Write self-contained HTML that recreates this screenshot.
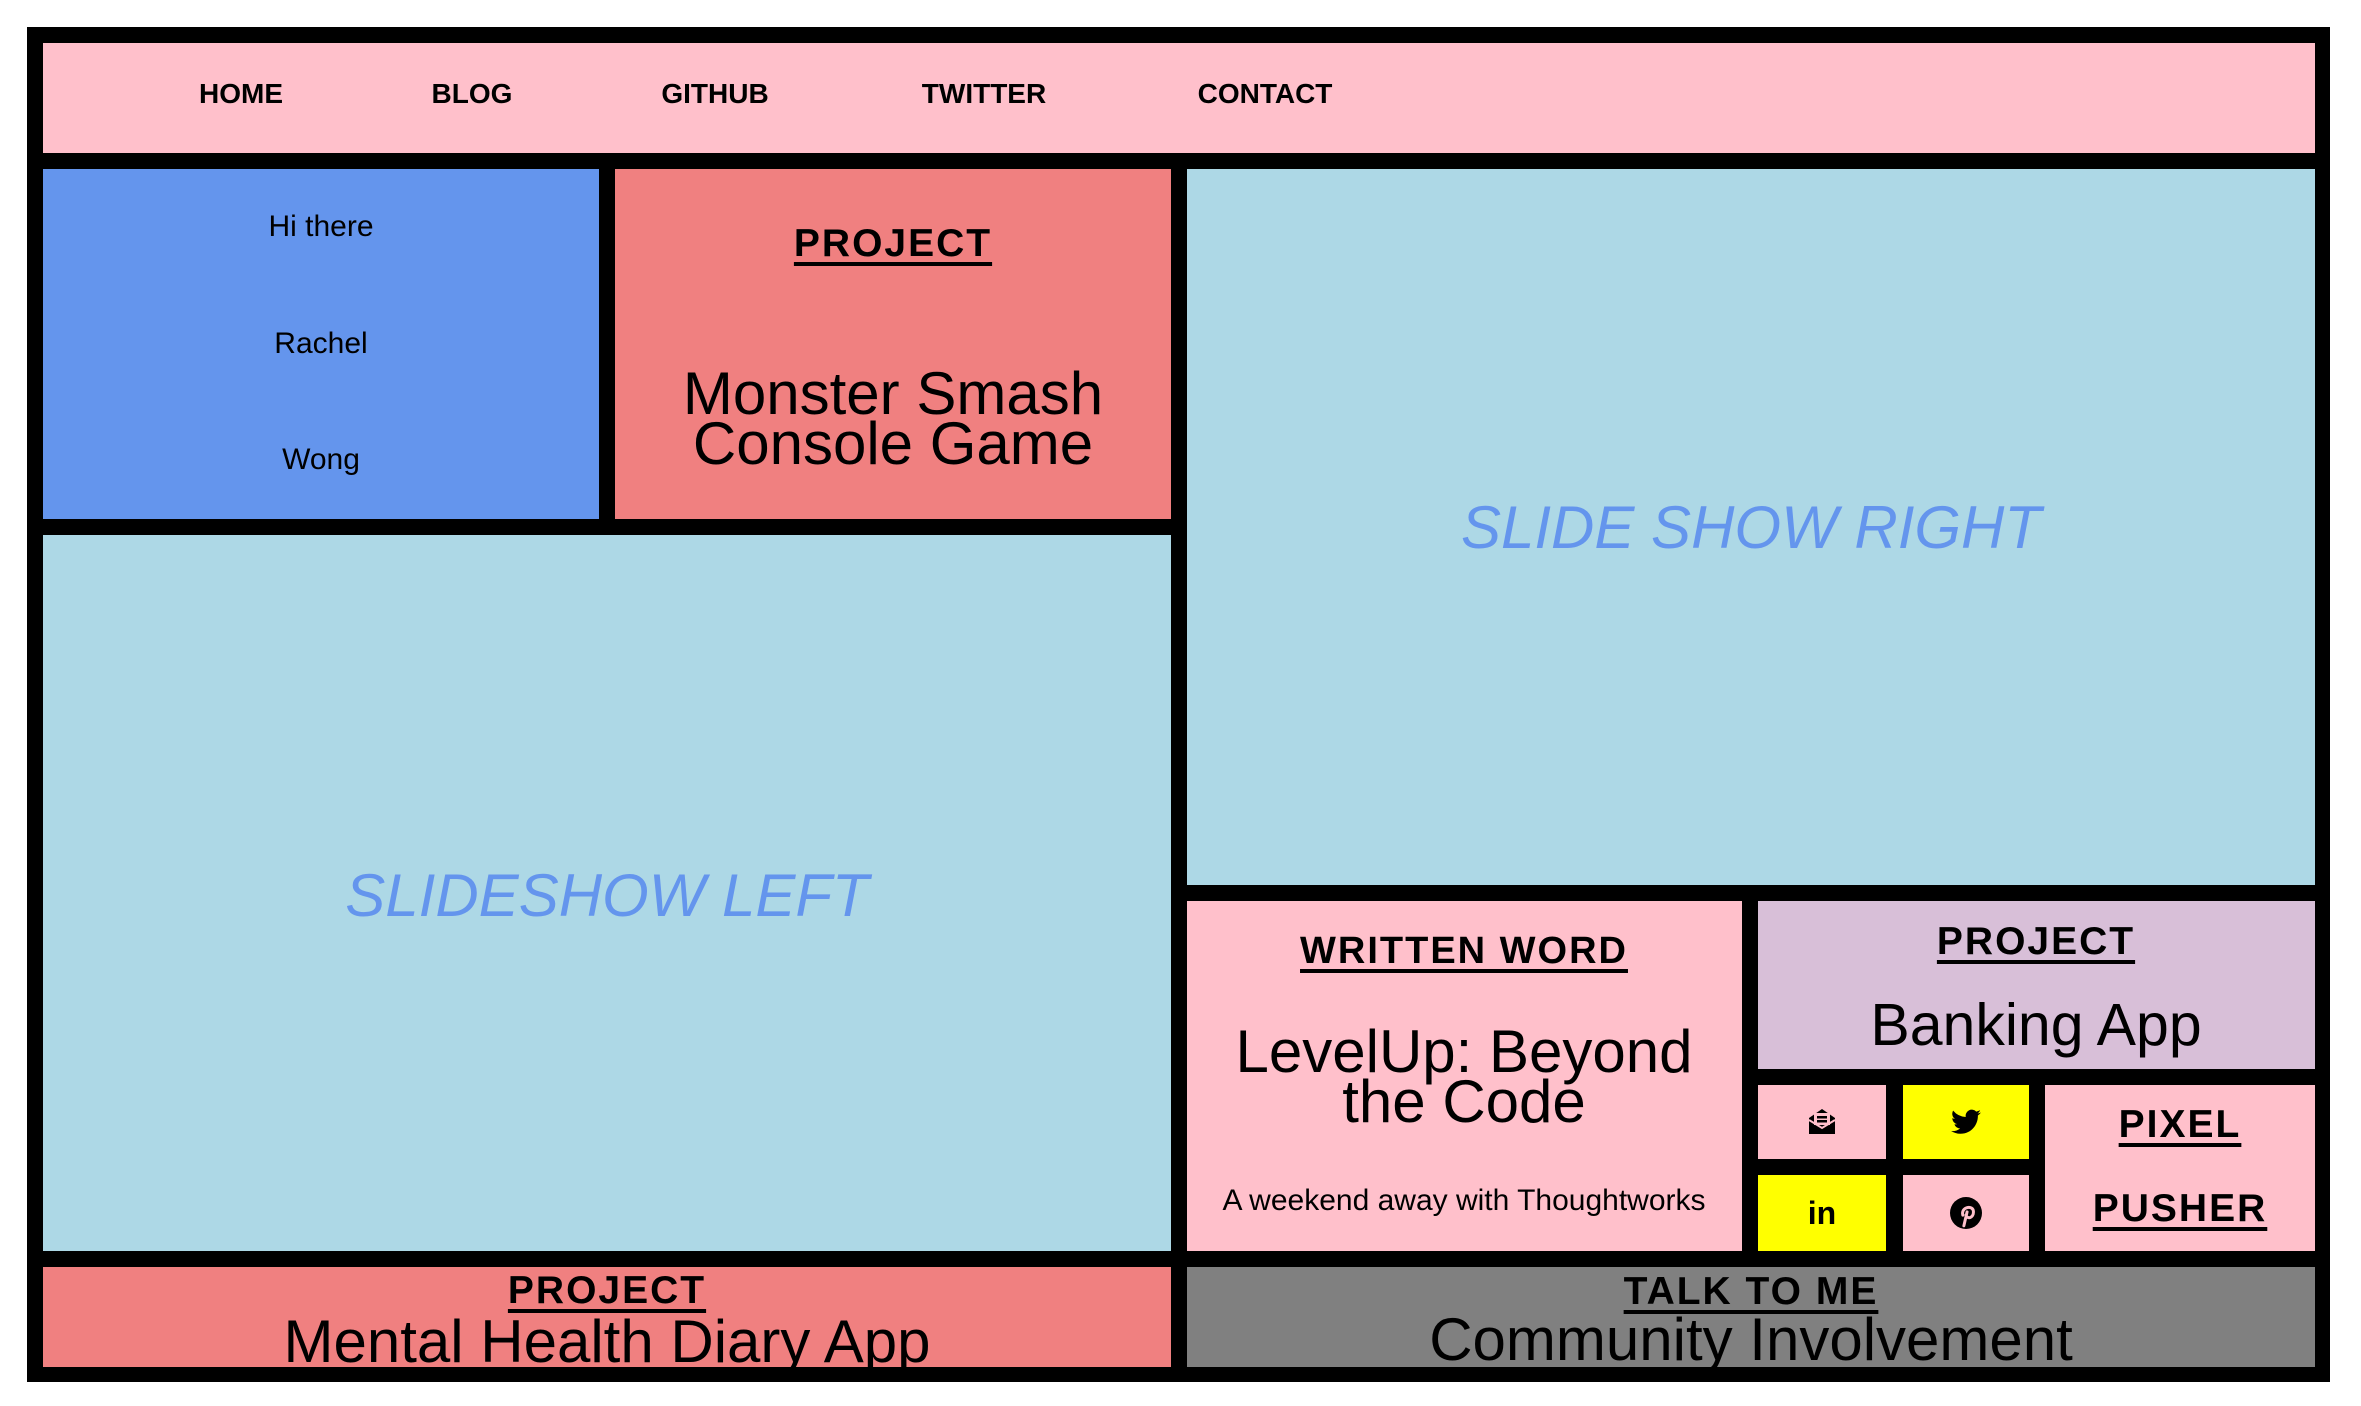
<!DOCTYPE html>
<html><head><meta charset="utf-8"><style>
*{margin:0;padding:0;box-sizing:border-box}
body{width:2361px;height:1406px;background:#fff;position:relative;overflow:hidden;font-family:"Liberation Sans",sans-serif;color:#000}
.b{position:absolute;overflow:hidden}
.t{position:absolute;white-space:nowrap;line-height:1;transform:translateX(-50%);text-align:center}
.h{font-weight:bold;font-size:39px;letter-spacing:2px;text-decoration:underline;text-decoration-thickness:4px;text-underline-offset:6px}
.nav{font-weight:bold;font-size:28px}
.big{font-size:60px;line-height:50px}
.sl{font-size:60px;font-style:italic;color:#6495ED}
.ic{position:absolute;display:flex;align-items:center;justify-content:center}
</style></head><body>
<div class="b" style="left:27px;top:27px;width:2303px;height:1355px;background:#000"></div>
<div class="b" style="left:43px;top:43px;width:2272px;height:110px;background:#FFC0CB"></div>
<div class="b" style="left:43px;top:169px;width:556px;height:350px;background:#6495ED"></div>
<div class="b" style="left:615px;top:169px;width:556px;height:350px;background:#F08080"></div>
<div class="b" style="left:1187px;top:169px;width:1128px;height:716px;background:#ADD8E6"></div>
<div class="b" style="left:43px;top:535px;width:1128px;height:716px;background:#ADD8E6"></div>
<div class="b" style="left:1187px;top:901px;width:555px;height:350px;background:#FFC0CB"></div>
<div class="b" style="left:1758px;top:901px;width:557px;height:168px;background:#D8BFD8"></div>
<div class="b" style="left:1758px;top:1085px;width:128px;height:74px;background:#FFC0CB"></div>
<div class="b" style="left:1903px;top:1085px;width:126px;height:74px;background:#FFFF00"></div>
<div class="b" style="left:1758px;top:1175px;width:128px;height:76px;background:#FFFF00"></div>
<div class="b" style="left:1903px;top:1175px;width:126px;height:76px;background:#FFC0CB"></div>
<div class="b" style="left:2045px;top:1085px;width:270px;height:166px;background:#FFC0CB"></div>

<div class="b" style="left:43px;top:1267px;width:1128px;height:100px;background:#F08080">
 <div class="t h" style="left:564px;top:4px">PROJECT</div>
 <div class="t" style="left:564px;top:45px;font-size:60px">Mental Health Diary App</div>
</div>
<div class="b" style="left:1187px;top:1267px;width:1128px;height:100px;background:#808080">
 <div class="t h" style="left:564px;top:5px">TALK TO ME</div>
 <div class="t" style="left:564px;top:43px;font-size:60px">Community Involvement</div>
</div>

<div class="t nav" style="left:241px;top:80px">HOME</div>
<div class="t nav" style="left:472px;top:80px">BLOG</div>
<div class="t nav" style="left:715px;top:80px">GITHUB</div>
<div class="t nav" style="left:984px;top:80px">TWITTER</div>
<div class="t nav" style="left:1265px;top:80px">CONTACT</div>

<div class="t" style="left:321px;top:212px;font-size:30px">Hi there</div>
<div class="t" style="left:321px;top:329px;font-size:30px">Rachel</div>
<div class="t" style="left:321px;top:445px;font-size:30px">Wong</div>

<div class="t h" style="left:893px;top:224px">PROJECT</div>
<div class="t big" style="left:893px;top:369px">Monster Smash<br>Console Game</div>

<div class="t sl" style="left:1751px;top:498px">SLIDE SHOW RIGHT</div>
<div class="t sl" style="left:607px;top:866px">SLIDESHOW LEFT</div>

<div class="t h" style="left:1464px;top:932px;font-size:38px">WRITTEN WORD</div>
<div class="t big" style="left:1464px;top:1027px">LevelUp: Beyond<br>the Code</div>
<div class="t" style="left:1464px;top:1186px;font-size:30px">A weekend away with Thoughtworks</div>

<div class="t h" style="left:2036px;top:922px">PROJECT</div>
<div class="t" style="left:2036px;top:996px;font-size:59px">Banking App</div>

<div class="t h" style="left:2180px;top:1105px">PIXEL</div>
<div class="t h" style="left:2180px;top:1189px">PUSHER</div>

<div class="ic" style="left:1758px;top:1085px;width:128px;height:74px">
<svg width="32" height="32" viewBox="0 0 32 32"><path d="M3 12 L16 3 L29 12 V28 H3 Z" fill="#000"/><rect x="8" y="7" width="16" height="12" fill="#FFC0CB"/><rect x="11" y="10" width="10" height="2.5" fill="#000"/><rect x="11" y="14" width="10" height="2.5" fill="#000"/><path d="M3 14 L16 22 L29 14" stroke="#FFC0CB" stroke-width="2" fill="none"/></svg></div>
<div class="ic" style="left:1903px;top:1085px;width:126px;height:74px">
<svg width="30" height="26" viewBox="0 0 24 20"><path d="M24 2.4a10 10 0 0 1-2.8.8 5 5 0 0 0 2.1-2.7 10 10 0 0 1-3.1 1.2A4.9 4.9 0 0 0 11.8 6 14 14 0 0 1 1.7.9a4.9 4.9 0 0 0 1.5 6.6 4.9 4.9 0 0 1-2.2-.6 4.9 4.9 0 0 0 3.9 4.8 4.9 4.9 0 0 1-2.2.1 4.9 4.9 0 0 0 4.6 3.4A9.9 9.9 0 0 1 0 17.2 14 14 0 0 0 7.5 19.4c9.1 0 14-7.5 14-14v-.6A10 10 0 0 0 24 2.4z" fill="#000"/></svg></div>
<div class="ic" style="left:1758px;top:1175px;width:128px;height:76px;font-weight:bold;font-size:32px">in</div>
<div class="ic" style="left:1903px;top:1175px;width:126px;height:76px">
<svg width="32" height="32" viewBox="0 0 30 30"><circle cx="15" cy="15" r="15" fill="#000"/><path d="M13 27 L16 14 M12 17 C10 9 22 7 22 14 C22 20 16 21 15 17" stroke="#FFC0CB" stroke-width="2.8" fill="none" stroke-linecap="round"/></svg></div>
</body></html>
